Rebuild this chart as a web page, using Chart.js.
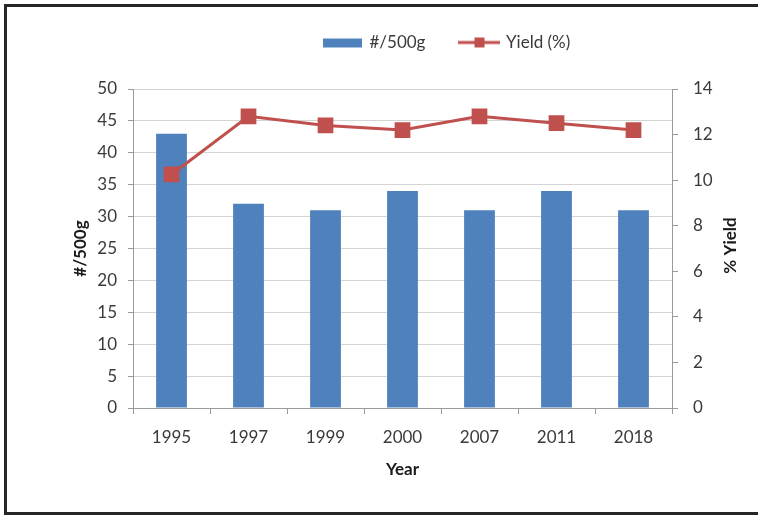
<!DOCTYPE html>
<html lang="en">
  <head>
    <meta charset="UTF-8" />
    <title>#/500g e Yield</title>
    <style>
      html,
      body {
        margin: 0;
        width: 758px;
        height: 517px;
        overflow: hidden;
        background: #fff;
      }
      body {
        position: relative;
      }
      .moldura {
        position: absolute;
        left: 4px;
        top: 4px;
        width: 800px;
        height: 511px;
        box-sizing: border-box;
        border-top: 3px solid #262626;
        border-left: 3px solid #262626;
        border-bottom: 3px solid #262626;
      }
      #grafico {
        position: absolute;
        left: 0;
        top: 0;
      }
    </style>
  </head>
  <body>
    <div class="moldura"></div>
    <div id="grafico"><canvas id="myChart" width="758" height="517"></canvas></div>
  </body>
</html>
<script src="https://cdn.jsdelivr.net/npm/chart.js"></script>
<script>
  var anos = ["1995", "1997", "1999", "2000", "2007", "2011", "2018"];
  var qtd_500g = [43, 32, 31, 34, 31, 34, 31];
  var rendimento = [10.25, 12.8, 12.4, 12.2, 12.8, 12.5, 12.2];

  var ticks_qtd = [0, 5, 10, 15, 20, 25, 30, 35, 40, 45, 50];
  var ticks_rend = [0, 2, 4, 6, 8, 10, 12, 14];

  var cor_barra = "#4F81BD";
  var cor_linha = "#C0504D";
  var cor_texto = "#3a3a3a";
  var fonte = "Lato";

  // icones da legenda: retangulo azul e linha com quadrado
  function icone(tipo) {
    var c = document.createElement("canvas");
    c.width = 42;
    c.height = 12;
    var ctx = c.getContext("2d");
    if (tipo == "barra") {
      ctx.fillStyle = cor_barra;
      ctx.fillRect(1, 2, 39, 9);
    } else {
      ctx.strokeStyle = cor_linha;
      ctx.lineWidth = 3;
      ctx.beginPath();
      ctx.moveTo(0, 6);
      ctx.lineTo(42, 6);
      ctx.stroke();
      ctx.fillStyle = cor_linha;
      ctx.fillRect(16, 1, 10, 10);
    }
    return c;
  }

  // legenda fica deslocada para a direita, como no grafico do excel
  const posLegenda = {
    id: "posLegenda",
    afterLayout(chart) {
      var lg = chart.legend;
      lg.left = 325 - lg.options.labels.padding;
      lg.right = chart.width;
      lg.top = -2;
    },
  };

  // titulo do eixo da direita, lido de baixo para cima
  const tituloDireita = {
    id: "tituloDireita",
    afterDraw(chart) {
      var ctx = chart.ctx;
      var area = chart.chartArea;
      ctx.save();
      ctx.translate(731, (area.top + area.bottom) / 2 - 3);
      ctx.rotate(-Math.PI / 2);
      ctx.font = "bold 17px " + fonte;
      ctx.fillStyle = "#1a1a1a";
      ctx.textAlign = "center";
      ctx.textBaseline = "middle";
      ctx.fillText("% Yield", 0, 0);
      ctx.restore();
    },
  };

  Chart.defaults.font.family = fonte;
  Chart.defaults.font.size = 17;
  Chart.defaults.color = cor_texto;

  const data = {
    labels: anos,
    datasets: [
      {
        type: "bar",
        label: "#/500g",
        data: qtd_500g,
        backgroundColor: cor_barra,
        yAxisID: "y",
        order: 1,
        barPercentage: 0.4,
        categoryPercentage: 1,
      },
      {
        type: "line",
        label: "Yield (%)",
        data: rendimento,
        borderColor: cor_linha,
        backgroundColor: cor_linha,
        borderWidth: 3,
        pointStyle: "rect",
        pointRadius: 9,
        pointBackgroundColor: cor_linha,
        pointBorderColor: cor_linha,
        yAxisID: "y1",
        order: 0,
      },
    ],
  };

  const config = {
    data: data,
    plugins: [posLegenda, tituloDireita],
    options: {
      responsive: false,
      animation: false,
      layout: {
        padding: { left: 60, right: 30, top: 26, bottom: 30 },
      },
      plugins: {
        tooltip: { enabled: false },
        legend: {
          position: "top",
          align: "start",
          labels: {
            usePointStyle: true,
            pointStyleWidth: 36,
            padding: 36,
            color: cor_texto,
            generateLabels: function (chart) {
              return chart.data.datasets.map(function (ds, i) {
                return {
                  text: ds.label,
                  datasetIndex: i,
                  pointStyle: icone(ds.type == "bar" ? "barra" : "linha"),
                  fillStyle: ds.backgroundColor,
                  strokeStyle: ds.backgroundColor,
                  lineWidth: 0,
                  fontColor: cor_texto,
                };
              });
            },
          },
        },
      },
      scales: {
        x: {
          afterFit: function (s) {
            s.height = 79;
          },
          grid: {
            drawOnChartArea: false,
            tickLength: 6,
            tickColor: "#9a9a9a",
          },
          border: { color: "#9a9a9a" },
          ticks: { padding: 13, color: cor_texto },
          title: {
            display: true,
            text: "Year",
            color: "#1a1a1a",
            font: { weight: "bold", size: 17 },
            padding: { top: 4, bottom: 7 },
          },
        },
        y: {
          position: "left",
          min: ticks_qtd[0],
          max: ticks_qtd[ticks_qtd.length - 1],
          afterFit: function (s) {
            s.width = 73;
          },
          ticks: { stepSize: ticks_qtd[1] - ticks_qtd[0], padding: 11, color: cor_texto },
          grid: {
            color: "#d4d4d4",
            tickLength: 5,
            tickColor: "#9a9a9a",
          },
          border: { color: "#9a9a9a" },
          title: {
            display: true,
            text: "#/500g",
            color: "#1a1a1a",
            font: { weight: "bold", size: 17 },
            padding: { top: 10, bottom: 4 },
          },
        },
        y1: {
          position: "right",
          min: ticks_rend[0],
          max: ticks_rend[ticks_rend.length - 1],
          afterFit: function (s) {
            s.width = 56;
          },
          ticks: { stepSize: ticks_rend[1] - ticks_rend[0], padding: 15, color: cor_texto },
          grid: {
            drawOnChartArea: false,
            tickLength: 6,
            tickColor: "#9a9a9a",
          },
          border: { color: "#9a9a9a" },
        },
      },
    },
  };

  const myChart = new Chart(document.getElementById("myChart"), config);
</script>
